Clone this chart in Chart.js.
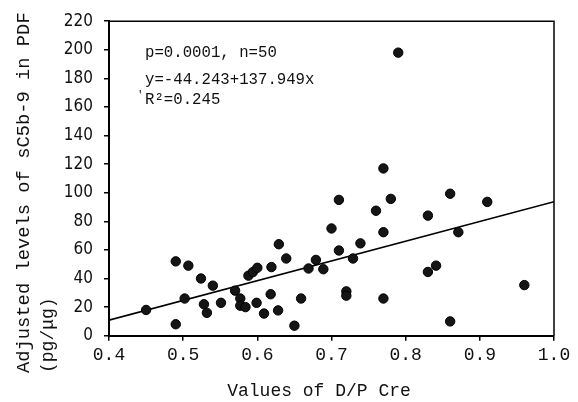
<!DOCTYPE html>
<html><head><meta charset="utf-8">
<script src="https://cdn.jsdelivr.net/npm/chart.js@4"></script>
<style>html,body{margin:0;padding:0;background:#fff}#wrap{width:578px;height:402px;position:relative}</style>
</head><body><div id="wrap"><canvas id="c" width="578" height="402"></canvas></div>
<script>
// ---- data ----
const dpCre = [0.45,0.49,0.49,0.502,0.507,0.524,0.528,0.532,0.54,0.551,
  0.57,0.577,0.577,0.584,0.588,0.594,0.600,0.599,0.609,0.618,
  0.619,0.628,0.629,0.639,0.65,0.659,0.669,0.679,0.689,0.70,
  0.71,0.71,0.72,0.72,0.729,0.739,0.76,0.77,0.77,0.77,
  0.78,0.79,0.83,0.83,0.841,0.86,0.86,0.871,0.91,0.96];
const sc5b9 = [18,52,8,26,49,40,22,16,35,23,
  31.5,26,21,20,42,44.5,47.5,23,15.5,29,
  48,17.7,64,54,7,26,47,53,46.5,75,
  95,59.6,31,28,54,64.6,87.4,117,72.4,26,
  95.7,198,84,44.6,49,99.3,10,72.4,93.6,35.4];
const fitX = [0.4, 1.0];
const fitY = [10.9, 93.7];
const xTicks = [0.4,0.5,0.6,0.7,0.8,0.9,1.0];
const yTicks = [0,20,40,60,80,100,120,140,160,180,200,220];
const statLines = ['p=0.0001, n=50','y=-44.243+137.949x','R\u00b2=0.245'];
const xTitle = 'Values of D/P Cre';
const yTitle = ['Adjusted levels of sC5b-9 in PDF','(pg/\u03bcg)'];

const MONO = "'Liberation Mono','DejaVu Sans Mono',monospace";
const NARROW = "'Liberation Sans Narrow','DejaVu Sans Condensed',sans-serif";

const scatterPts = dpCre.map((x,i)=>({x:x,y:sc5b9[i]}));
const fitPts = fitX.map((x,i)=>({x:x,y:fitY[i]}));

const decor = {
  id:'decor',
  afterDraw(chart){
    const ctx = chart.ctx, a = chart.chartArea;
    ctx.save();
    ctx.strokeStyle='#000';
    ctx.lineWidth=1.5;
    ctx.beginPath();
    ctx.moveTo(a.left, a.top); ctx.lineTo(a.right, a.top); ctx.lineTo(a.right, a.bottom);
    ctx.stroke();
    ctx.fillStyle='#111';
    ctx.textBaseline='middle';
    ctx.textAlign='left';
    ctx.font = "15.7px " + MONO;
    const ys=[53,80,100];
    statLines.forEach((t,i)=>ctx.fillText(t,145,ys[i]));
    ctx.font = "11px " + MONO;
    ctx.fillText("'",137,95);
    // x title
    ctx.font = "18px " + MONO;
    ctx.textAlign='center';
    ctx.fillText(xTitle, 319, 391);
    // y title
    ctx.save();
    ctx.font = "18.8px " + MONO;
    ctx.textAlign='left';
    ctx.translate(24, 373);
    ctx.rotate(-Math.PI/2);
    ctx.fillText(yTitle[0],0,0);
    ctx.restore();
    ctx.save();
    ctx.font = "18px " + MONO;
    ctx.textAlign='left';
    ctx.translate(48, 373);
    ctx.rotate(-Math.PI/2);
    ctx.fillText(yTitle[1],0,0);
    ctx.restore();
    ctx.restore();
  }
};

new Chart(document.getElementById('c'), {
  type:'scatter',
  data:{datasets:[
    {data:scatterPts, pointRadius:4.7, pointHoverRadius:4.7, backgroundColor:'#151515', borderColor:'#000', borderWidth:1, order:1},
    {type:'line', data:fitPts, borderColor:'#000', borderWidth:1.6, pointRadius:0, fill:false, order:2}
  ]},
  options:{
    responsive:false, animation:false,
    layout:{padding:{top:16,right:24,left:0,bottom:0}},
    plugins:{legend:{display:false},tooltip:{enabled:false}},
    scales:{
      x:{type:'linear', min:0.4, max:1.0,
        afterFit(s){s.height=66.3;},
        afterBuildTicks(s){s.ticks = xTicks.map(v=>({value:v}));},
        ticks:{padding:4, color:'#111', font:{family:MONO,size:18}, callback:v=>v.toFixed(1)},
        grid:{display:true, drawOnChartArea:false, drawTicks:true, tickLength:5, color:'#000', lineWidth:1.5},
        border:{display:true, color:'#000', width:2}
      },
      y:{type:'linear', min:0, max:220,
        afterFit(s){s.width=109;},
        afterBuildTicks(s){s.ticks = yTicks.map(v=>({value:v}));},
        ticks:{padding:11, color:'#111', font:{family:NARROW,size:17}},
        grid:{display:true, drawOnChartArea:false, drawTicks:true, tickLength:5, color:'#000', lineWidth:1.5},
        border:{display:true, color:'#000', width:2}
      }
    }
  },
  plugins:[decor]
});
</script></body></html>
